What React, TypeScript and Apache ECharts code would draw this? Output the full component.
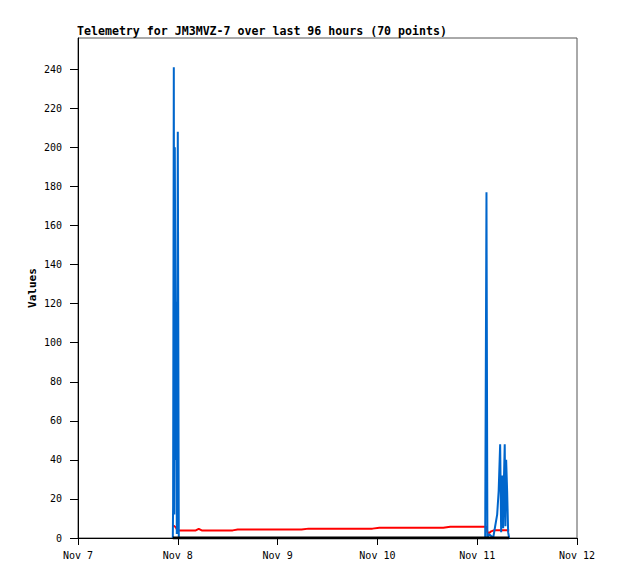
import React, { useEffect, useRef } from "react";
import * as echarts from "echarts";

// Hours since Nov 7 00:00
const times = [
  22.8, 22.87, 23.04, 23.16, 23.28, 23.52, 23.64, 23.76, 24.0, 24.24,
  24.96, 26.64, 28.32, 29.04, 29.76, 31.44, 33.36, 35.28, 37.2, 38.4,
  40.32, 42.24, 44.16, 46.08, 48.0, 49.92, 51.84, 53.76, 55.44, 57.36,
  59.28, 61.2, 63.12, 65.04, 66.96, 68.88, 70.8, 72.48, 74.4, 76.32,
  78.24, 80.16, 82.08, 84.0, 85.92, 87.84, 89.52, 91.92, 94.32, 96.72,
  97.92, 98.23, 98.45, 98.88, 99.36, 99.84, 100.32, 100.8, 101.16, 101.52,
  101.76, 102.0, 102.24, 102.43, 102.62, 102.79, 102.96, 103.2, 103.44, 103.68,
];

const blueValues = [
  0, 16, 241, 12, 200, 40, 121, 2, 208, 0,
  0, 0, 0, 0, 0, 0, 0, 0, 0, 0,
  0, 0, 0, 0, 0, 0, 0, 0, 0, 0,
  0, 0, 0, 0, 0, 0, 0, 0, 0, 0,
  0, 0, 0, 0, 0, 0, 0, 0, 0, 0,
  0, 177, 0, 2, 1, 0, 6, 12, 24, 48,
  3, 32, 5, 30, 48, 6, 40, 24, 3, 0,
];

const redValues = [
  6.0, 6.0, 6.3, 6.0, 5.8, 5.5, 5.0, 4.5, 4.0, 3.9,
  3.9, 3.9, 3.9, 4.7, 3.9, 3.9, 3.9, 3.9, 3.9, 4.3,
  4.3, 4.3, 4.3, 4.3, 4.3, 4.3, 4.3, 4.3, 4.8, 4.8,
  4.8, 4.8, 4.8, 4.8, 4.8, 4.8, 4.8, 5.3, 5.3, 5.3,
  5.3, 5.3, 5.3, 5.3, 5.3, 5.3, 5.8, 5.8, 5.8, 5.8,
  5.8, 5.8, 3.0, 2.5, 3.4, 3.8, 4.0, 4.0, 4.0, 4.0,
  4.0, 4.0, 4.0, 4.0, 4.0, 4.0, 4.0, 4.0, 4.0, 4.0,
];

const blackValues = [
  0, 0, 0, 0, 0, 0, 0, 0, 0, 0,
  0, 0, 0, 0, 0, 0, 0, 0, 0, 0,
  0, 0, 0, 0, 0, 0, 0, 0, 0, 0,
  0, 0, 0, 0, 0, 0, 0, 0, 0, 0,
  0, 0, 0, 0, 0, 0, 0, 0, 0, 0,
  0, 0, 0, 0, 0, 0, 0, 0, 0, 0,
  0, 0, 0, 0, 0, 0, 0, 0, 0, 0,
];

const xTickLabels = ["Nov 7", "Nov 8", "Nov 9", "Nov 10", "Nov 11", "Nov 12"];
const yTicks = [0, 20, 40, 60, 80, 100, 120, 140, 160, 180, 200, 220, 240];

const titleText = "Telemetry for JM3MVZ-7 over last 96 hours (70 points)";
const FONT = "'DejaVu Sans Mono', monospace";

export default function App() {
  const ref = useRef<HTMLDivElement>(null);
  useEffect(() => {
    if (!ref.current) return;
    const chart = echarts.init(ref.current, null, { renderer: "svg" });
    const mk = (vals: number[]) => times.map((t, i) => [t, vals[i]]);
    chart.setOption({
      animation: false,
      backgroundColor: "#ffffff",
      title: {
        text: titleText,
        left: 77,
        top: 25,
        padding: 0,
        textStyle: { fontFamily: FONT, fontSize: 11.6, fontWeight: "bold", color: "#000" },
      },
      grid: {
        left: 78,
        right: 41,
        top: 38,
        bottom: 41,
        show: true,
        borderColor: "#555",
        borderWidth: 1,
        backgroundColor: "#fff",
      },
      xAxis: {
        type: "value",
        min: 0,
        max: 120,
        interval: 24,
        splitLine: { show: false },
        axisLine: { show: true, lineStyle: { color: "#000", width: 1 } },
        axisTick: { show: true, length: 7, lineStyle: { color: "#000" } },
        axisLabel: {
          fontFamily: FONT,
          fontSize: 10,
          color: "#000",
          margin: 12,
          formatter: (v: number) => xTickLabels[Math.round(v / 24)] ?? "",
        },
      },
      yAxis: {
        type: "value",
        min: 0,
        max: 256,
        name: "Values",
        nameLocation: "middle",
        nameGap: 40,
        nameMoveOverlap: false,
        nameTextStyle: { fontFamily: FONT, fontSize: 11, fontWeight: "bold", color: "#000" },
        splitLine: { show: false },
        axisLine: { show: true, lineStyle: { color: "#000", width: 1 } },
        axisTick: { show: true, length: 8, customValues: yTicks, lineStyle: { color: "#000" } },
        axisLabel: {
          fontFamily: FONT,
          fontSize: 10,
          color: "#000",
          margin: 16,
          customValues: yTicks,
        },
      },
      series: [
        {
          type: "line",
          name: "red",
          data: mk(redValues),
          showSymbol: false,
          lineStyle: { color: "#ff0000", width: 2 },
          itemStyle: { color: "#ff0000" },
        },
        {
          type: "line",
          name: "blue",
          data: mk(blueValues),
          showSymbol: false,
          lineStyle: { color: "#0066cc", width: 2 },
          itemStyle: { color: "#0066cc" },
        },
        {
          type: "line",
          name: "black",
          data: mk(blackValues),
          showSymbol: false,
          lineStyle: { color: "#000000", width: 3 },
          itemStyle: { color: "#000000" },
        },
      ],
    });
    return () => chart.dispose();
  }, []);
  return (
    <div
      ref={ref}
      style={{ position: "fixed", left: 0, top: 0, width: 618, height: 579, background: "#fff" }}
    />
  );
}
